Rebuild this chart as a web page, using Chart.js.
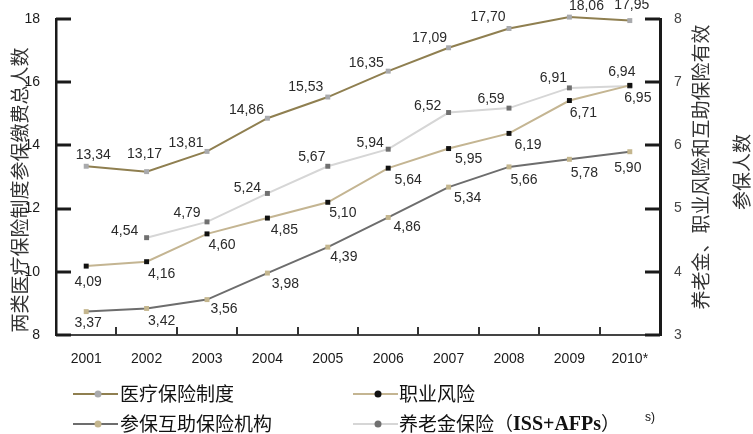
<!DOCTYPE html>
<html>
<head>
<meta charset="utf-8">
<script src="https://cdn.jsdelivr.net/npm/chart.js@4.4.0/dist/chart.umd.min.js"></script>
<style>
html, body { margin: 0; padding: 0; background: #fff; }
#chart { display: block; }
</style>
</head>
<body>
<canvas id="chart" width="753" height="434"></canvas>
<script>
// Data (millions)
const years = ['2001', '2002', '2003', '2004', '2005', '2006', '2007', '2008', '2009', '2010*'];
const medical = [13.34, 13.17, 13.81, 14.86, 15.53, 16.35, 17.09, 17.70, 18.06, 17.95];
const occupational = [4.09, 4.16, 4.60, 4.85, 5.10, 5.64, 5.95, 6.19, 6.71, 6.95];
const mutual = [3.37, 3.42, 3.56, 3.98, 4.39, 4.86, 5.34, 5.66, 5.78, 5.90];
const pension = [null, 4.54, 4.79, 5.24, 5.67, 5.94, 6.52, 6.59, 6.91, 6.94];
const leftTicks = [8, 10, 12, 14, 16, 18];
const rightTicks = [3, 4, 5, 6, 7, 8];

// Where each value label sits relative to its point (dx, dy)
const medicalOff = [[7,-11],[-2,-17],[-21,-8],[-21,-8],[-22,-10],[-22,-8],[-19,-10],[-21,-11],[17,-11],[2,-15]];
const occupationalOff = [[2,16],[15,12],[15,11],[17,12],[15,11],[20,12],[20,11],[19,12],[14,13],[8,13]];
const mutualOff = [[2,12],[15,13],[17,10],[18,11],[16,10],[19,10],[19,11],[15,13],[15,14],[-2,16]];
const pensionOff = [[0,0],[-22,-7],[-20,-9],[-20,-5],[-16,-9],[-18,-6],[-21,-6],[-18,-9],[-16,-10],[-8,-14]];

const CJK = '"Noto Sans CJK SC", sans-serif';
const NUM = '"Liberation Sans", Arial, sans-serif';

function fmt(v) {
    return v.toFixed(2).replace('.', ',');
}

// Value labels next to the points
const valueLabels = {
    id: 'valueLabels',
    afterDatasetsDraw(chart) {
        const ctx = chart.ctx;
        ctx.save();
        ctx.font = '14px ' + NUM;
        ctx.fillStyle = '#2a2a2a';
        ctx.textAlign = 'center';
        ctx.textBaseline = 'middle';
        chart.data.datasets.forEach((ds, di) => {
            const meta = chart.getDatasetMeta(di);
            meta.data.forEach((pt, i) => {
                const v = ds.data[i];
                if (v == null) return;
                const off = ds.labelOffsets[i];
                ctx.fillText(fmt(v), pt.x + off[0], pt.y + off[1]);
            });
        });
        ctx.restore();
    }
};

// Inward tick marks, rotated axis titles and the 2x2 legend
const decor = {
    id: 'decor',
    afterDraw(chart) {
        const ctx = chart.ctx;
        const area = chart.chartArea;
        const yL = chart.scales.yL, yR = chart.scales.yR, x = chart.scales.x;
        ctx.save();

        // tick marks
        ctx.strokeStyle = '#1a1a1a';
        ctx.lineWidth = 3;
        leftTicks.forEach(v => {
            const py = Math.round(yL.getPixelForValue(v));
            ctx.beginPath(); ctx.moveTo(area.left, py); ctx.lineTo(area.left + 15, py); ctx.stroke();
        });
        rightTicks.forEach(v => {
            const py = Math.round(yR.getPixelForValue(v));
            ctx.beginPath(); ctx.moveTo(area.right, py); ctx.lineTo(area.right - 15, py); ctx.stroke();
        });
        ctx.strokeStyle = '#333';
        ctx.lineWidth = 2;
        for (let i = 1; i < years.length; i++) {
            const px = Math.round((x.getPixelForValue(i - 1) + x.getPixelForValue(i)) / 2);
            ctx.beginPath(); ctx.moveTo(px, area.bottom); ctx.lineTo(px, area.bottom - 8); ctx.stroke();
        }

        // axis titles
        ctx.fillStyle = '#333';
        ctx.textAlign = 'center';
        ctx.textBaseline = 'middle';
        ctx.font = '19px ' + CJK;
        const vText = (t, px, py) => {
            ctx.save(); ctx.translate(px, py); ctx.rotate(-Math.PI / 2); ctx.fillText(t, 0, 0); ctx.restore();
        };
        vText('两类医疗保险制度参保缴费总人数', 20, 190);
        vText('养老金、职业风险和互助保险有效', 701, 167);
        vText('参保人数', 742, 172);

        // legend
        const ds = chart.data.datasets;
        const items = [
            [ds[0], 73, 394], [ds[1], 353, 394],
            [ds[2], 73, 424], [ds[3], 353, 424]
        ];
        items.forEach(([d, lx, ly]) => {
            ctx.strokeStyle = d.borderColor;
            ctx.lineWidth = 2;
            ctx.beginPath(); ctx.moveTo(lx, ly); ctx.lineTo(lx + 45, ly); ctx.stroke();
            ctx.fillStyle = d.pointBackgroundColor;
            ctx.beginPath(); ctx.arc(lx + 25, ly, 3.5, 0, Math.PI * 2); ctx.fill();
        });
        ctx.fillStyle = '#111';
        ctx.textAlign = 'left';
        ctx.font = '19px ' + CJK;
        ctx.fillText('医疗保险制度', 120, 394);
        ctx.fillText('职业风险', 399, 394);
        ctx.fillText('参保互助保险机构', 120, 424);
        let tx = 399;
        ctx.fillText('养老金保险（', tx, 424);
        tx += ctx.measureText('养老金保险（').width;
        ctx.font = 'bold 20px "Liberation Serif", serif';
        ctx.fillText('ISS+AFPs', tx, 425);
        tx += ctx.measureText('ISS+AFPs').width;
        ctx.font = '19px ' + CJK;
        ctx.fillText('）', tx, 424);
        ctx.font = '12px ' + NUM;
        ctx.fillText('s)', 645, 418);

        ctx.restore();
    }
};

new Chart(document.getElementById('chart'), {
    type: 'line',
    data: {
        labels: years,
        datasets: [
            {
                label: '医疗保险制度',
                data: medical,
                yAxisID: 'yL',
                borderColor: '#8f7f50',
                pointBackgroundColor: '#a9aaad',
                labelOffsets: medicalOff
            },
            {
                label: '职业风险',
                data: occupational,
                yAxisID: 'yR',
                borderColor: '#c4b592',
                pointBackgroundColor: '#111111',
                labelOffsets: occupationalOff
            },
            {
                label: '参保互助保险机构',
                data: mutual,
                yAxisID: 'yR',
                borderColor: '#6d6d6d',
                pointBackgroundColor: '#c4b68e',
                labelOffsets: mutualOff
            },
            {
                label: '养老金保险（ISS+AFPs）',
                data: pension,
                yAxisID: 'yR',
                borderColor: '#d6d6d6',
                pointBackgroundColor: '#707070',
                labelOffsets: pensionOff
            }
        ]
    },
    options: {
        responsive: false,
        animation: false,
        devicePixelRatio: 1,
        layout: { padding: { top: 19, left: 0, right: 0, bottom: 0 } },
        elements: {
            line: { borderWidth: 2, tension: 0 },
            point: { pointStyle: 'rect', radius: 3.5, borderWidth: 0, hoverRadius: 3.5 }
        },
        datasets: { line: { clip: false, spanGaps: false } },
        plugins: {
            legend: { display: false },
            tooltip: { enabled: false }
        },
        scales: {
            x: {
                offset: true,
                grid: { display: false },
                border: { display: true, color: '#444', width: 2 },
                ticks: { color: '#1a1a1a', font: { size: 14, family: NUM }, padding: 8, maxRotation: 0 },
                afterFit(scale) { scale.height = 99; }
            },
            yL: {
                position: 'left',
                min: 8,
                max: 18,
                afterBuildTicks(scale) { scale.ticks = leftTicks.map(v => ({ value: v })); },
                grid: { display: false },
                border: { display: true, color: '#1a1a1a', width: 2.5 },
                ticks: { color: '#1a1a1a', font: { size: 14, family: NUM }, padding: 8 },
                afterFit(scale) { scale.width = 56; }
            },
            yR: {
                position: 'right',
                min: 3,
                max: 8,
                afterBuildTicks(scale) { scale.ticks = rightTicks.map(v => ({ value: v })); },
                grid: { display: false },
                border: { display: true, color: '#1a1a1a', width: 3 },
                ticks: { color: '#444', font: { size: 14, family: NUM }, padding: 6 },
                afterFit(scale) { scale.width = 93; }
            }
        }
    },
    plugins: [valueLabels, decor]
});
</script>
</body>
</html>
